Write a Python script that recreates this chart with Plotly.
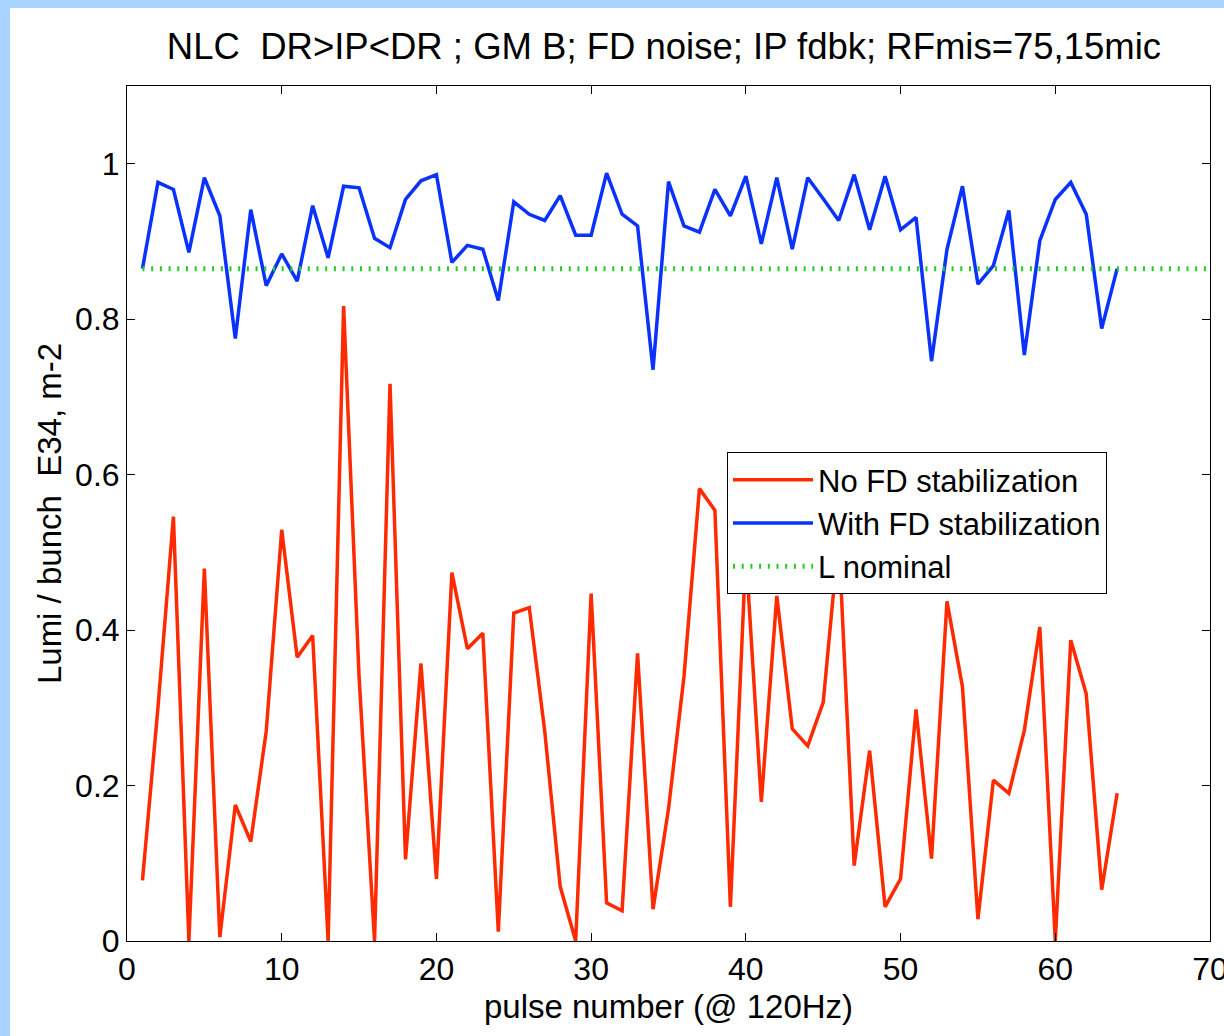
import plotly.graph_objects as go

pulse = list(range(1, 65))

lumi_no_fd = [0.078, 0.30, 0.546, 0.0, 0.479, 0.005, 0.175, 0.128, 0.27, 0.529,
              0.365, 0.393, 0.0, 0.817, 0.34, 0.0, 0.717, 0.105, 0.357, 0.080,
              0.474, 0.376, 0.396, 0.012, 0.422, 0.429, 0.27, 0.07, 0.0, 0.447,
              0.049, 0.039, 0.370, 0.041, 0.17, 0.34, 0.582, 0.554, 0.044, 0.50,
              0.179, 0.444, 0.273, 0.251, 0.307, 0.52, 0.097, 0.245, 0.044, 0.080,
              0.298, 0.106, 0.437, 0.327, 0.028, 0.207, 0.190, 0.271, 0.404, 0.0,
              0.387, 0.318, 0.066, 0.190]

lumi_with_fd = [0.865, 0.976, 0.967, 0.886, 0.982, 0.933, 0.775, 0.941, 0.843, 0.884,
                0.849, 0.946, 0.879, 0.971, 0.969, 0.904, 0.892, 0.954, 0.978, 0.986,
                0.873, 0.895, 0.890, 0.824, 0.951, 0.935, 0.927, 0.959, 0.908, 0.908,
                0.988, 0.935, 0.920, 0.735, 0.977, 0.920, 0.912, 0.967, 0.933, 0.984,
                0.897, 0.982, 0.890, 0.982, 0.955, 0.927, 0.986, 0.915, 0.984, 0.915,
                0.931, 0.746, 0.890, 0.971, 0.845, 0.869, 0.940, 0.754, 0.901, 0.954,
                0.976, 0.935, 0.788, 0.865]

nominal_x = [1, 70]
nominal_y = [0.865, 0.865]

x_ticks = [0, 10, 20, 30, 40, 50, 60, 70]
y_ticks = [0, 0.2, 0.4, 0.6, 0.8, 1]
y_tick_labels = ["0", "0.2", "0.4", "0.6", "0.8", "1"]

FONT = "Liberation Sans, Arial, sans-serif"

fig = go.Figure()
fig.add_trace(go.Scatter(x=pulse, y=lumi_no_fd, mode="lines", name="No FD stabilization",
                         line=dict(color="#FF2A00", width=3.5)))
fig.add_trace(go.Scatter(x=pulse, y=lumi_with_fd, mode="lines", name="With FD stabilization",
                         line=dict(color="#0A32FF", width=3.5)))
fig.add_trace(go.Scatter(x=nominal_x, y=nominal_y, mode="lines", name="L nominal",
                         line=dict(color="#22CC22", width=5, dash="2px,6.7px")))

# light-blue slide frame behind the white figure area
fig.add_shape(type="rect", xref="paper", yref="paper", layer="below",
              x0=(10 - 127) / 1083, x1=1.02, y0=-0.12, y1=(941 - 8) / 855,
              fillcolor="white", line=dict(width=0))

fig.update_layout(
    width=1224, height=1036,
    margin=dict(l=127, r=14, t=86, b=95, autoexpand=False),
    paper_bgcolor="#A8D3FF",
    plot_bgcolor="white",
    font=dict(family=FONT, size=32, color="black"),
    title=dict(text="NLC\u00a0 DR&gt;IP&lt;DR ; GM B; FD noise; IP fdbk; RFmis=75,15mic",
               x=(664 - 127) / 1083, xref="paper", xanchor="center",
               y=1 - 46 / 1036, yref="container", yanchor="middle",
               font=dict(family=FONT, size=36.5, color="black")),
    showlegend=True,
    legend=dict(x=(727 - 127) / 1083, y=(941 - 452) / 855, xanchor="left", yanchor="top",
                bgcolor="white", bordercolor="black", borderwidth=1,
                font=dict(family=FONT, size=31, color="black"),
                itemwidth=80, tracegroupgap=0),
)

fig.update_xaxes(range=[0, 70], tickvals=x_ticks, showgrid=False, zeroline=False,
                 showline=True, linecolor="black", linewidth=1, mirror="ticks",
                 ticks="inside", ticklen=8, tickcolor="black",
                 ticklabeloverflow="allow", automargin=False,
                 tickfont=dict(family=FONT, size=32),
                 title=dict(text="pulse number (@ 120Hz)", standoff=8,
                            font=dict(family=FONT, size=33)))
fig.update_yaxes(range=[0, 1.1], tickvals=y_ticks, ticktext=y_tick_labels,
                 showgrid=False, zeroline=False, automargin=False,
                 showline=True, linecolor="black", linewidth=1, mirror="ticks",
                 ticks="inside", ticklen=8, tickcolor="black",
                 tickfont=dict(family=FONT, size=32),
                 title=dict(text="Lumi / bunch\u00a0 E34, m-2", standoff=3,
                            font=dict(family=FONT, size=33)))

fig.write_html("out.html")
